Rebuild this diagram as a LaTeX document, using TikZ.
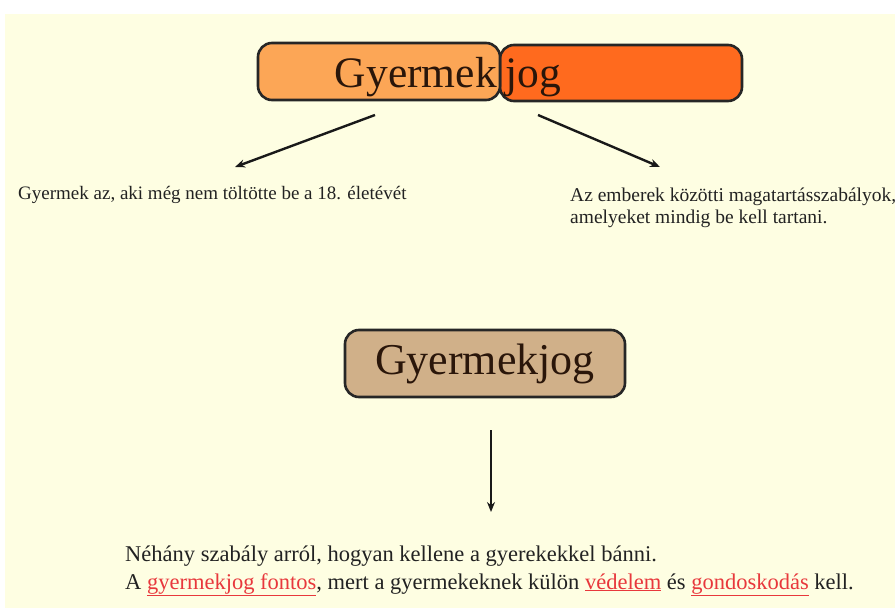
\documentclass[tikz,border=0pt]{standalone}
\usepackage{fontspec}
\setmainfont{Liberation Serif}
\usetikzlibrary{arrows.meta}
\definecolor{bgyellow}{HTML}{FEFEE2}
\definecolor{lorange}{HTML}{FCA656}
\definecolor{dorange}{HTML}{FF6A1E}
\definecolor{tanbox}{HTML}{D0B089}
\definecolor{linkred}{HTML}{E8383C}
\definecolor{txt}{HTML}{222222}
\definecolor{boxtxt}{HTML}{2A160A}
\newcommand{\redul}[1]{\textcolor{linkred}{\underline{#1}}}
\tikzset{
  rbox/.style={draw=black!85, line width=2.6pt, rounded corners=14pt},
  arr/.style={-{Stealth[length=10pt,width=8pt]}, line width=2.4pt, black!90},
  plain/.style={inner sep=0pt, text=txt, anchor=base west}
}
\begin{document}
\begin{tikzpicture}[x=1pt,y=-1pt]
\useasboundingbox (0,0) rectangle (895,608);
\fill[white] (0,0) rectangle (895,608);
\fill[bgyellow] (5,14) rectangle (895,608);
% top split box
\draw[rbox, fill=dorange] (500,45) rectangle (742,101);
\draw[rbox, fill=lorange] (258,43) rectangle (500,100);
\node[inner sep=0pt, anchor=base east, font=\fontsize{43.5}{48}\selectfont, text=boxtxt] (gy) at (497,87) {Gyermek};
\node[inner sep=0pt, anchor=base west, font=\fontsize{43.5}{48}\selectfont, text=boxtxt] (jog) at (505,87) {jog};
\coordinate (a1s) at (375,115);
\coordinate (a2s) at (538,115);
% left / right texts
\node[plain, font=\fontsize{19}{22}\selectfont] (lt) at (18,199) {Gyermek az, aki még nem töltötte be a 18. életévét};
\node[plain, font=\fontsize{19.5}{22}\selectfont] (rt1) at (570,201) {Az emberek közötti magatartásszabályok,};
\node[plain, font=\fontsize{19.5}{22}\selectfont] (rt2) at (570,223) {amelyeket mindig be kell tartani.};
\coordinate (a1e) at (235,167);
\coordinate (a2e) at (660,167);
\draw[arr] (a1s) -- (a1e);
\draw[arr] (a2s) -- (a2e);
% middle box
\node[rbox, fill=tanbox, minimum width=280pt, minimum height=67pt, font=\fontsize{44}{48}\selectfont, text=boxtxt, inner sep=0pt] (mid) at (485,363.5) {Gyermekjog};
\coordinate (a3s) at (491,430);
\coordinate (a3e) at (491,512);
\draw[arr] (a3s) -- (a3e);
% bottom text
\node[plain, font=\fontsize{22.5}{26}\selectfont] (b1) at (125,561) {Néhány szabály arról, hogyan kellene a gyerekekkel bánni.};
\node[plain, font=\fontsize{22.5}{26}\selectfont] (b2) at (125,589) {A \redul{gyermekjog fontos}, mert a gyermekeknek külön \redul{védelem} és \redul{gondoskodás} kell.};
\end{tikzpicture}
\end{document}
